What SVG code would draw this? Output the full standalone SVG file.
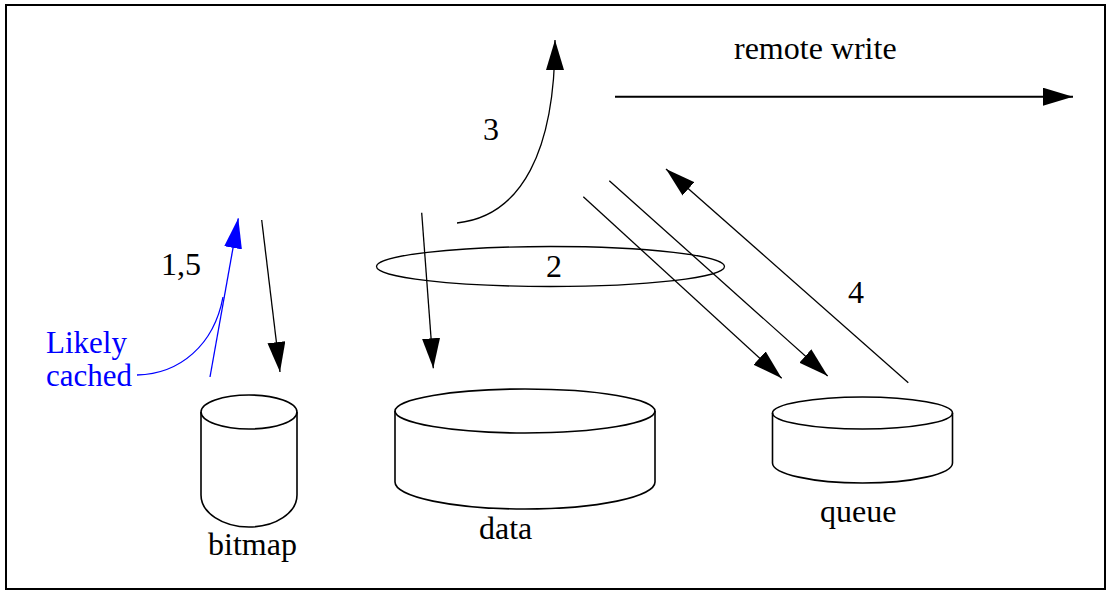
<svg xmlns="http://www.w3.org/2000/svg" width="1107" height="591" viewBox="0 0 1107 591">
<style>
text{font-family:"Liberation Serif","Times New Roman",serif;font-size:32px;fill:#000}
.blue{fill:#0000ff;font-size:31px}
.cyl{fill:none;stroke:#000;stroke-width:1.6}
.c{fill:none;stroke:#000;stroke-width:1.3}
.cb{fill:none;stroke:#0000ff;stroke-width:1.3}
</style>
<defs>
<marker id="ah" markerUnits="userSpaceOnUse" markerWidth="31" markerHeight="18" refX="30" refY="9" orient="auto" viewBox="0 0 31 18">
<path d="M0,0 L30,9 L0,18 z" fill="#000"/>
</marker>
<marker id="ahb" markerUnits="userSpaceOnUse" markerWidth="31" markerHeight="18" refX="30" refY="9" orient="auto" viewBox="0 0 31 18">
<path d="M0,0 L30,9 L0,18 z" fill="#0000ff"/>
</marker>
</defs>
<rect x="6" y="5" width="1099" height="584" fill="#fff" stroke="#000" stroke-width="2"/>

<g id="bitmap">
<ellipse class="cyl" cx="249" cy="412" rx="48" ry="17"/>
<path class="cyl" d="M201,412 V495 A48,32 0 0 0 297,495 V412"/>
<text x="208" y="555">bitmap</text>
</g>
<g id="data">
<ellipse class="cyl" cx="525" cy="411" rx="130" ry="22"/>
<path class="cyl" d="M395,411 V482 A130,27 0 0 0 655,482 V411"/>
<text x="479" y="539">data</text>
</g>
<g id="queue">
<ellipse class="cyl" cx="862.5" cy="413" rx="90" ry="16"/>
<path class="cyl" d="M772.5,413 V463 A90,20 0 0 0 952.5,463 V413"/>
<text x="820" y="522">queue</text>
</g>
<g id="group2">
<ellipse class="c" cx="550.5" cy="266.5" rx="174" ry="20"/>
<text x="546" y="277">2</text>
</g>

<g id="connectors">
<line class="c" x1="261.7" y1="220" x2="280" y2="372" marker-end="url(#ah)"/>
<line class="c" x1="421.7" y1="212.7" x2="433.3" y2="368.3" marker-end="url(#ah)"/>
<path class="c" d="M457,223 C522,216 555,150 555,40" marker-end="url(#ah)"/>
<line x1="615" y1="96.7" x2="1073" y2="96.7" stroke="#000" stroke-width="2" marker-end="url(#ah)"/>
<line class="c" x1="583.3" y1="196.7" x2="781.7" y2="378.3" marker-end="url(#ah)"/>
<line class="c" x1="609.3" y1="180.7" x2="827.7" y2="376" marker-end="url(#ah)"/>
<line class="c" x1="908.3" y1="382.7" x2="666" y2="169" marker-end="url(#ah)"/>
<line class="cb" x1="210" y1="377" x2="238.3" y2="218.3" marker-end="url(#ahb)"/>
<path class="cb" d="M137,375 C180,374 214,345 223,297"/>
</g>

<g id="labels">
<text x="161" y="275">1,5</text>
<text x="483" y="140">3</text>
<text x="848" y="303">4</text>
<text x="734" y="59">remote write</text>
<text class="blue" x="46" y="353">Likely</text>
<text class="blue" x="46" y="386">cached</text>
</g>
</svg>
